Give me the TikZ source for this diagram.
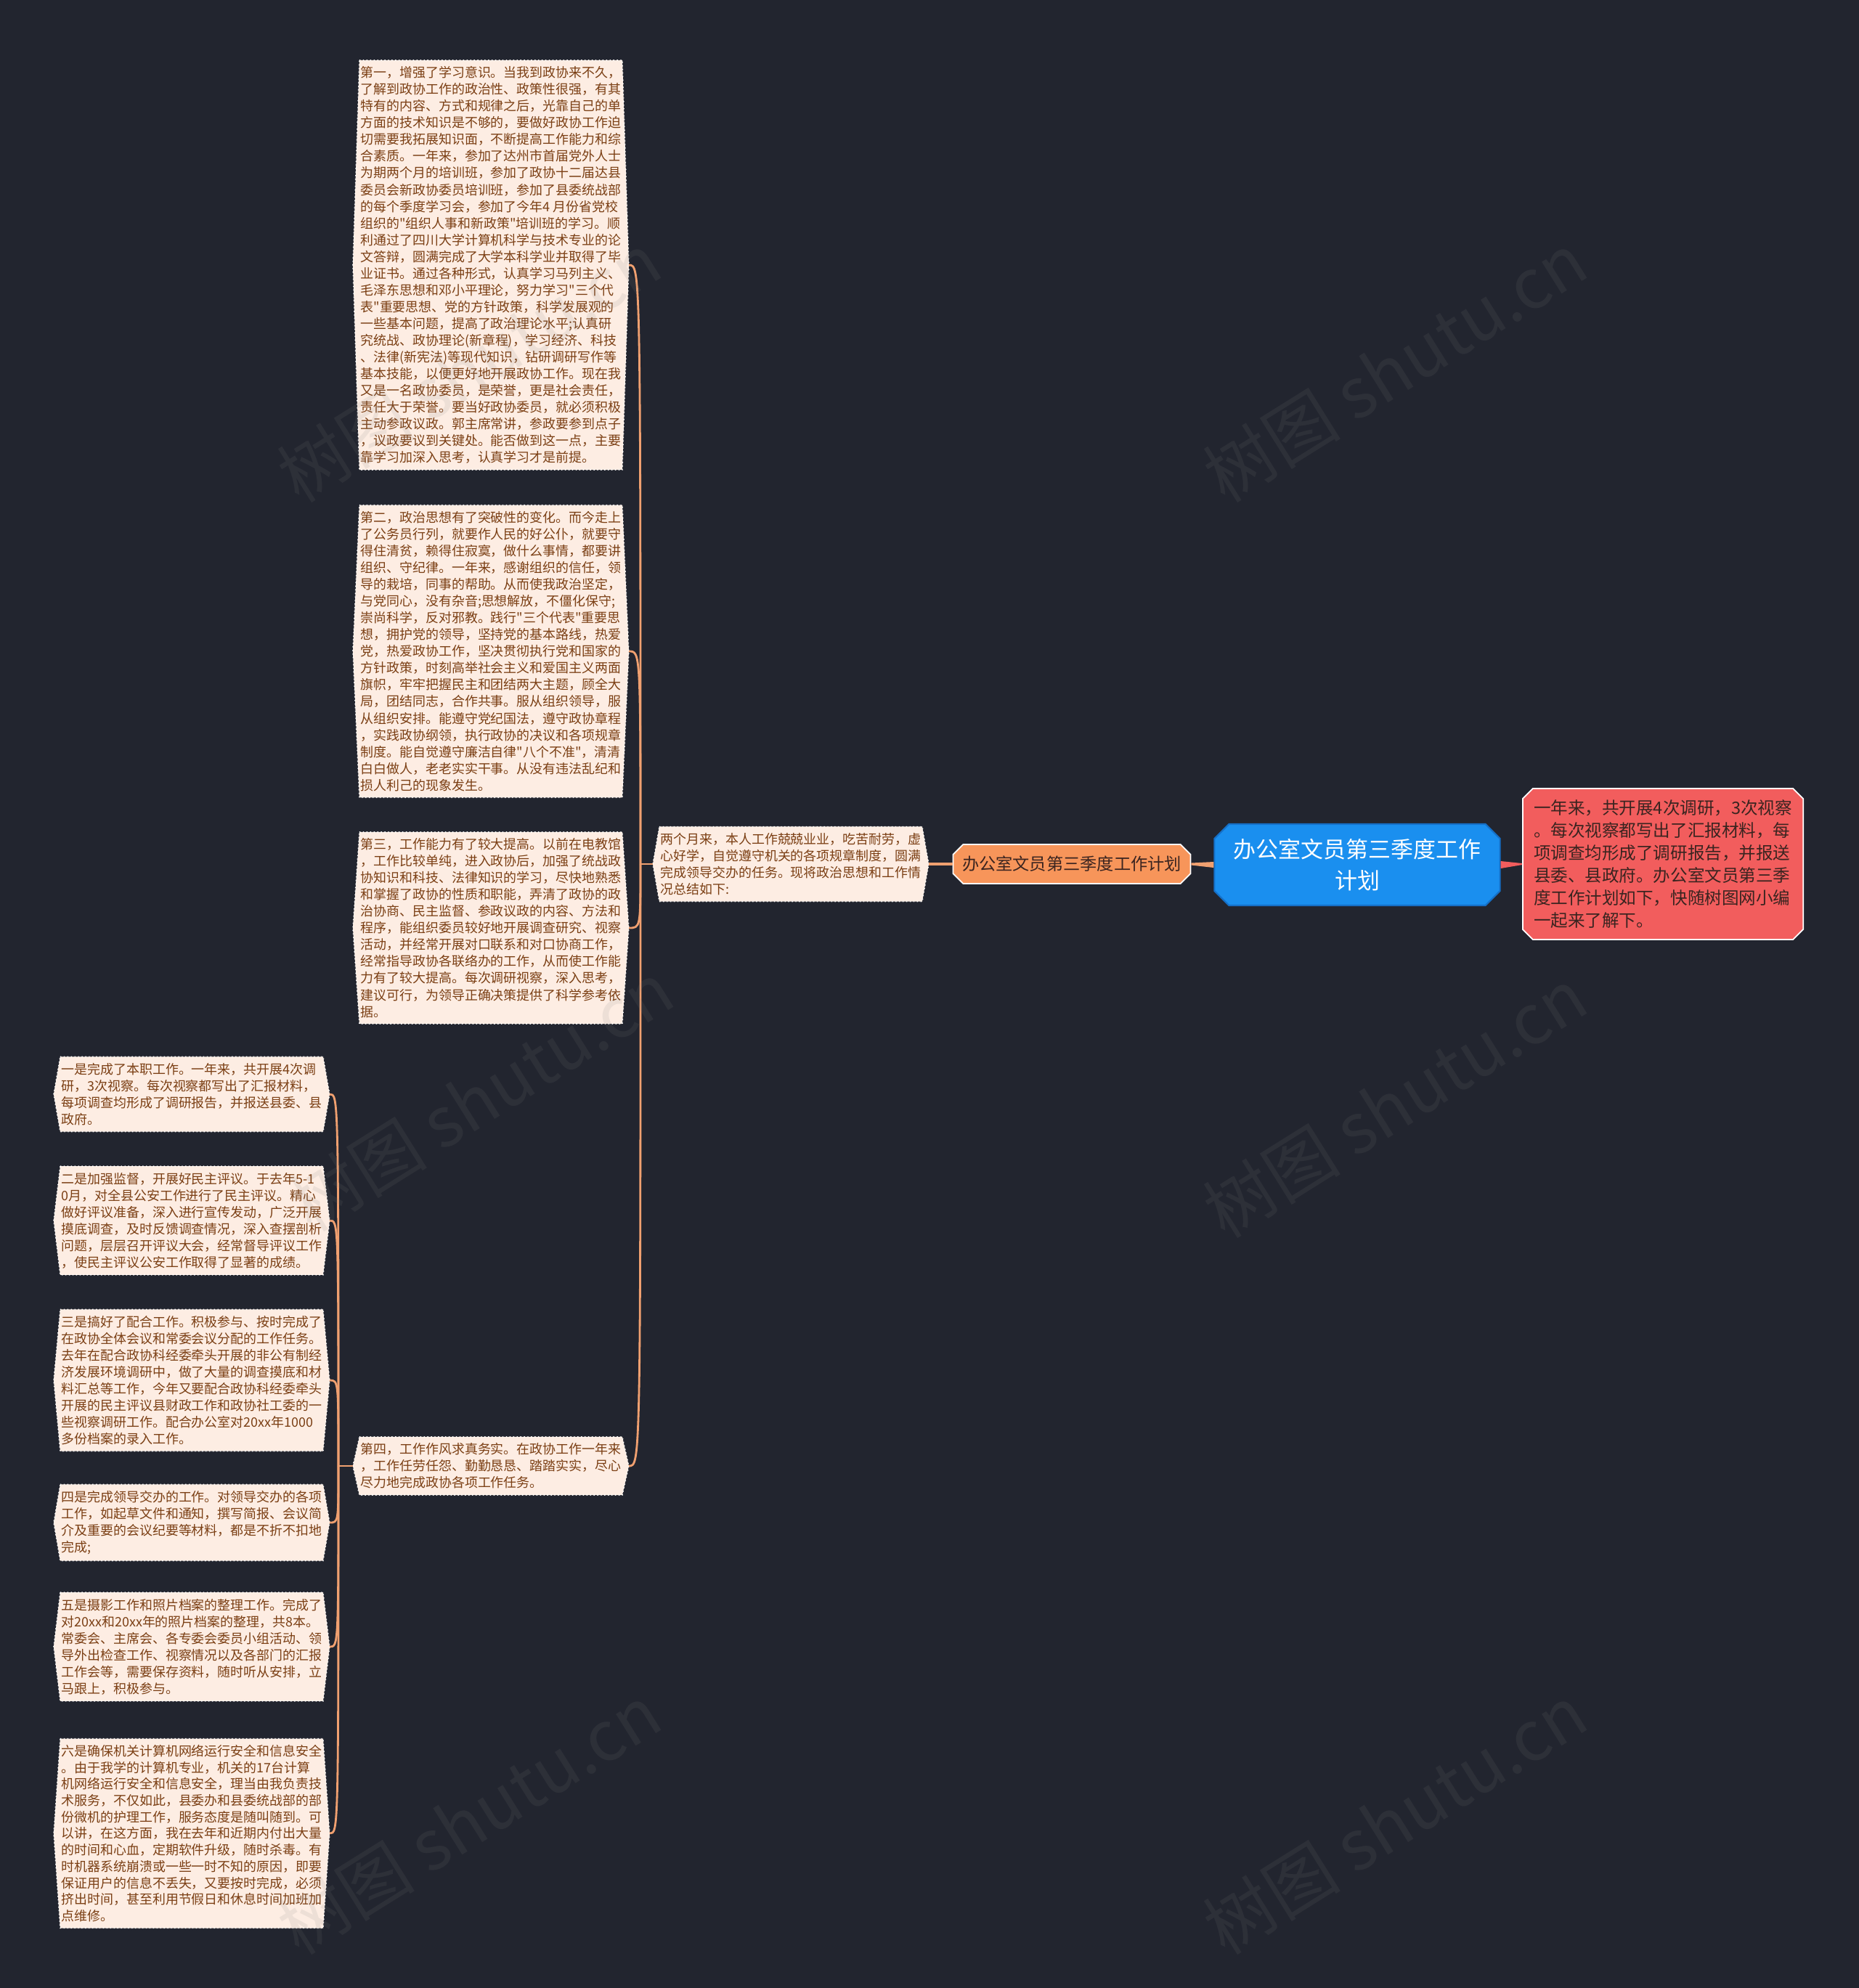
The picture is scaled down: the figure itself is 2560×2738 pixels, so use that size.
\documentclass[tikz,border=0pt]{standalone}
\usepackage{fontspec}
\newfontfamily\cjk{Noto Sans CJK SC}
\usetikzlibrary{shapes.misc,backgrounds}
\definecolor{bgdark}{HTML}{22252F}
\definecolor{notefill}{HTML}{FDEDE3}
\definecolor{notetext}{HTML}{7B3F14}
\definecolor{linkorange}{HTML}{F0A070}
\definecolor{planfill}{HTML}{F7955A}
\definecolor{titlefill}{HTML}{1A8FEF}
\definecolor{titleedge}{HTML}{1570C8}
\definecolor{introfill}{HTML}{F25D5D}
\definecolor{darktext}{HTML}{3A2420}
\begin{document}
\begin{tikzpicture}[x=0.01cm, y=-0.01cm,
  note/.style={anchor=east, text=notetext, align=left, inner xsep=0.01cm, inner ysep=0.08cm,
    font=\cjk\fontsize{5.1pt}{6.55pt}\selectfont},
  plan/.style={chamfered rectangle, chamfered rectangle xsep=0.07cm, chamfered rectangle ysep=0.07cm,
    fill=planfill, draw=white, line width=0.5pt, text=darktext, minimum width=3.27cm, minimum height=0.54cm,
    inner sep=0pt, font=\cjk\fontsize{6.6pt}{8pt}\selectfont},
  title/.style={chamfered rectangle, chamfered rectangle xsep=0.1cm, chamfered rectangle ysep=0.1cm,
    fill=titlefill, draw=titleedge, line width=0.6pt, text=white, align=center, minimum width=3.93cm,
    minimum height=1.12cm, inner sep=0pt, font=\cjk\fontsize{8.8pt}{12pt}\selectfont},
  intro/.style={chamfered rectangle, chamfered rectangle xsep=0.07cm, chamfered rectangle ysep=0.07cm,
    fill=introfill, draw=white, line width=0.5pt, text=darktext, align=left, minimum width=3.86cm,
    minimum height=2.08cm, inner sep=0pt, font=\cjk\fontsize{6.7pt}{8.8pt}\selectfont},
  link/.style={draw=linkorange, line width=0.8pt},
  wmark/.style={text=gray, opacity=0.12, rotate=32, font=\cjk\fontsize{27pt}{30pt}\selectfont}]
  \useasboundingbox (0,0) rectangle (2560,2738);

  \node[title] (title) at (1869,1191) {办公室文员第三季度工作\\计划};
  \node[intro] (intro) at (2290,1190) {一年来，共开展4次调研，3次视察\\。每次视察都写出了汇报材料，每\\项调查均形成了调研报告，并报送\\县委、县政府。办公室文员第三季\\度工作计划如下，快随树图网小编\\一起来了解下。};
  \node[plan] (plan) at (1476,1190) {办公室文员第三季度工作计划};
  \node[note] (sum) at (1270,1190) {两个月来，本人工作兢兢业业，吃苦耐劳，虚\\心好学，自觉遵守机关的各项规章制度，圆满\\完成领导交办的任务。现将政治思想和工作情\\况总结如下:};

  \node[note] (s1) at (857,365) {第一，增强了学习意识。当我到政协来不久，\\了解到政协工作的政治性、政策性很强，有其\\特有的内容、方式和规律之后，光靠自己的单\\方面的技术知识是不够的，要做好政协工作迫\\切需要我拓展知识面，不断提高工作能力和综\\合素质。一年来，参加了达州市首届党外人士\\为期两个月的培训班，参加了政协十二届达县\\委员会新政协委员培训班，参加了县委统战部\\的每个季度学习会，参加了今年4 月份省党校\\组织的"组织人事和新政策"培训班的学习。顺\\利通过了四川大学计算机科学与技术专业的论\\文答辩，圆满完成了大学本科学业并取得了毕\\业证书。通过各种形式，认真学习马列主义、\\毛泽东思想和邓小平理论，努力学习"三个代\\表"重要思想、党的方针政策，科学发展观的\\一些基本问题，提高了政治理论水平;认真研\\究统战、政协理论(新章程)，学习经济、科技\\、法律(新宪法)等现代知识，钻研调研写作等\\基本技能，以便更好地开展政协工作。现在我\\又是一名政协委员，是荣誉，更是社会责任，\\责任大于荣誉。要当好政协委员，就必须积极\\主动参政议政。郭主席常讲，参政要参到点子\\，议政要议到关键处。能否做到这一点，主要\\靠学习加深入思考，认真学习才是前提。};
  \node[note] (s2) at (857,897) {第二，政治思想有了突破性的变化。而今走上\\了公务员行列，就要作人民的好公仆，就要守\\得住清贫，赖得住寂寞，做什么事情，都要讲\\组织、守纪律。一年来，感谢组织的信任，领\\导的栽培，同事的帮助。从而使我政治坚定，\\与党同心，没有杂音;思想解放，不僵化保守;\\崇尚科学，反对邪教。践行"三个代表"重要思\\想，拥护党的领导，坚持党的基本路线，热爱\\党，热爱政协工作，坚决贯彻执行党和国家的\\方针政策，时刻高举社会主义和爱国主义两面\\旗帜，牢牢把握民主和团结两大主题，顾全大\\局，团结同志，合作共事。服从组织领导，服\\从组织安排。能遵守党纪国法，遵守政协章程\\，实践政协纲领，执行政协的决议和各项规章\\制度。能自觉遵守廉洁自律"八个不准"，清清\\白白做人，老老实实干事。从没有违法乱纪和\\损人利己的现象发生。};
  \node[note] (s3) at (857,1278) {第三，工作能力有了较大提高。以前在电教馆\\，工作比较单纯，进入政协后，加强了统战政\\协知识和科技、法律知识的学习，尽快地熟悉\\和掌握了政协的性质和职能，弄清了政协的政\\治协商、民主监督、参政议政的内容、方法和\\程序，能组织委员较好地开展调查研究、视察\\活动，并经常开展对口联系和对口协商工作，\\经常指导政协各联络办的工作，从而使工作能\\力有了较大提高。每次调研视察，深入思考，\\建议可行，为领导正确决策提供了科学参考依\\据。};
  \node[note] (s4) at (857,2019) {第四，工作作风求真务实。在政协工作一年来\\，工作任劳任怨、勤勤恳恳、踏踏实实，尽心\\尽力地完成政协各项工作任务。};

  \node[note] (l1) at (445,1507) {一是完成了本职工作。一年来，共开展4次调\\研，3次视察。每次视察都写出了汇报材料，\\每项调查均形成了调研报告，并报送县委、县\\政府。};
  \node[note] (l2) at (445,1681) {二是加强监督，开展好民主评议。于去年5-1\\0月，对全县公安工作进行了民主评议。精心\\做好评议准备，深入进行宣传发动，广泛开展\\摸底调查，及时反馈调查情况，深入查摆剖析\\问题，层层召开评议大会，经常督导评议工作\\，使民主评议公安工作取得了显著的成绩。};
  \node[note] (l3) at (445,1901) {三是搞好了配合工作。积极参与、按时完成了\\在政协全体会议和常委会议分配的工作任务。\\去年在配合政协科经委牵头开展的非公有制经\\济发展环境调研中，做了大量的调查摸底和材\\料汇总等工作，今年又要配合政协科经委牵头\\开展的民主评议县财政工作和政协社工委的一\\些视察调研工作。配合办公室对20xx年1000\\多份档案的录入工作。};
  \node[note] (l4) at (445,2097) {四是完成领导交办的工作。对领导交办的各项\\工作，如起草文件和通知，撰写简报、会议简\\介及重要的会议纪要等材料，都是不折不扣地\\完成;};
  \node[note] (l5) at (445,2268) {五是摄影工作和照片档案的整理工作。完成了\\对20xx和20xx年的照片档案的整理，共8本。\\常委会、主席会、各专委会委员小组活动、领\\导外出检查工作、视察情况以及各部门的汇报\\工作会等，需要保存资料，随时听从安排，立\\马跟上，积极参与。};
  \node[note, font=\cjk\fontsize{5.1pt}{6.45pt}\selectfont] (l6) at (445,2525) {六是确保机关计算机网络运行安全和信息安全\\。由于我学的计算机专业，机关的17台计算\\机网络运行安全和信息安全，理当由我负责技\\术服务，不仅如此，县委办和县委统战部的部\\份微机的护理工作，服务态度是随叫随到。可\\以讲，在这方面，我在去年和近期内付出大量\\的时间和心血，定期软件升级，随时杀毒。有\\时机器系统崩溃或一些一时不知的原因，即要\\保证用户的信息不丢失，又要按时完成，必须\\挤出时间，甚至利用节假日和休息时间加班加\\点维修。};

  \begin{scope}[on background layer]
    \fill[bgdark] (0,0) rectangle (2560,2738);
    \foreach \n in {sum,s1,s2,s3,s4,l1,l2,l3,l4,l5,l6}
      \filldraw[fill=notefill, draw=white, densely dotted, line width=0.4pt] (\n.north west) -- (\n.north east)
        -- ([xshift=0.09cm]\n.east) -- (\n.south east) -- (\n.south west) -- ([xshift=-0.09cm]\n.west) -- cycle;
  \end{scope}

  \coordinate (j1) at (882,1190);
  \coordinate (j2) at (466,2019);
  \fill[introfill] ([yshift=0.05cm]title.east) -- ([yshift=0.01cm]intro.west) -- ([yshift=-0.01cm]intro.west)
    -- ([yshift=-0.05cm]title.east) -- cycle;
  \fill[linkorange] ([yshift=0.04cm]title.west) -- ([yshift=0.015cm]plan.east) -- ([yshift=-0.015cm]plan.east)
    -- ([yshift=-0.04cm]title.west) -- cycle;
  \draw[link, line width=1pt] (plan.west) -- ([xshift=0.09cm]sum.east);
  \draw[link] ([xshift=-0.09cm]sum.west) -- (j1);
  \foreach \n in {s1,s2,s3,s4}
    \draw[link] (j1) .. controls (j1 |- \n.east) .. ([xshift=0.09cm]\n.east);
  \draw[link] ([xshift=-0.09cm]s4.west) -- (j2);
  \foreach \n in {l1,l2,l3,l4,l5,l6}
    \draw[link] (j2) .. controls (j2 |- \n.east) .. ([xshift=0.09cm]\n.east);

  \node[wmark] (w1) at (646,506) {树图 shutu.cn};
  \node[wmark] (w2) at (1921,506) {树图 shutu.cn};
  \node[wmark] (w3) at (663,1510) {树图 shutu.cn};
  \node[wmark] (w4) at (1921,1519) {树图 shutu.cn};
  \node[wmark] (w5) at (646,2506) {树图 shutu.cn};
  \node[wmark] (w6) at (1921,2506) {树图 shutu.cn};
\end{tikzpicture}
\end{document}
